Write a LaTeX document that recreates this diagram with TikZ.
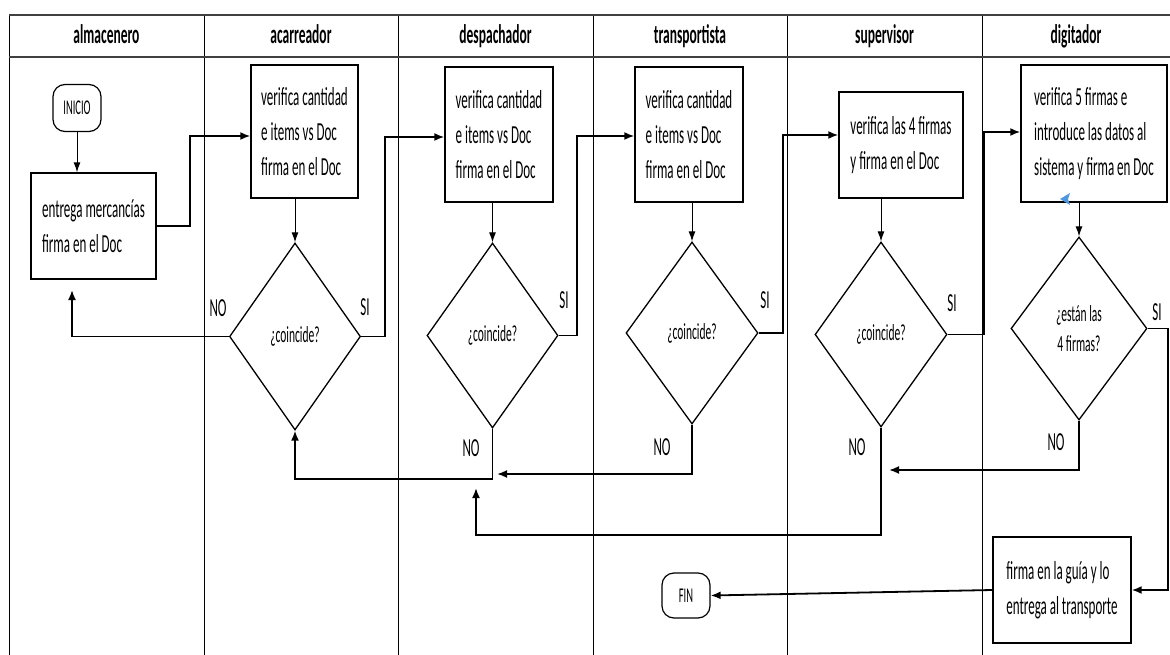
\documentclass[tikz,border=0pt]{standalone}
\usepackage{fontspec}
\setmainfont{Carlito}[FakeStretch=0.5]
\usetikzlibrary{shapes.geometric,arrows.meta,calc}
\definecolor{tipblue}{RGB}{80,150,220}
\tikzset{
 box/.style={draw, line width=1.4pt, align=left, font=\fontsize{26}{35}\selectfont, inner sep=0pt},
 term/.style={draw, line width=1.2pt, rounded corners=12pt, font=\fontsize{21}{22}\selectfont, inner sep=0pt},
 dec/.style={draw, diamond, line width=1.3pt, inner sep=0pt, align=center, font=\fontsize{23}{30}\selectfont},
 flow/.style={line width=1.8pt, -{Latex[length=10pt,width=8pt]}},
 thinflow/.style={line width=1pt, -{Latex[length=10pt,width=7pt]}},
 lbl/.style={font=\fontsize{26}{28}\selectfont, inner sep=0pt},
 head/.style={font=\bfseries\fontsize{27}{28}\selectfont, inner sep=0pt, anchor=base},
 lane/.style={line width=1pt},
 hline/.style={line width=2.5pt, black!75},
}
\begin{document}
\begin{tikzpicture}[x=1pt,y=-1pt]
\useasboundingbox (0,0) rectangle (1170,655);
% swimlanes
\foreach \x in {9,204,398,593,787,982} \draw[lane] (\x,15) -- (\x,655);
\draw[hline] (9,15) -- (1170,15);
\draw[hline] (9,57) -- (1170,57);
\node[head] (h1) at (106.5,44) {almacenero};
\node[head] (h2) at (301,44) {acarreador};
\node[head] (h3) at (495.5,44) {despachador};
\node[head] (h4) at (690,44) {transportista};
\node[head] (h5) at (884.5,44) {supervisor};
\node[head] (h6) at (1076,44) {digitador};
% nodes
\node[term, minimum width=48pt, minimum height=47pt] (ini) at (77,108) {INICIO};
\node[box, minimum width=125pt, minimum height=106pt] (ent) at (93.5,226) {entrega mercancías\\firma en el Doc};
\node[box, minimum width=107pt, minimum height=133pt] (acar) at (304.5,131.5) {verifica cantidad\\e items vs Doc\\firma en el Doc};
\node[box, minimum width=108pt, minimum height=135pt] (desp) at (499,134.5) {verifica cantidad\\e items vs Doc\\firma en el Doc};
\node[box, minimum width=108pt, minimum height=135pt] (trans) at (689,134.5) {verifica cantidad\\e items vs Doc\\firma en el Doc};
\node[box, minimum width=124pt, minimum height=106pt] (sup) at (901,145) {verifica las 4 firmas\\y firma en el Doc};
\node[box, minimum width=146pt, minimum height=137pt] (dig) at (1094,133.5) {verifica 5 firmas e\\introduce las datos al\\sistema y firma en Doc};
\node[box, minimum width=138pt, minimum height=106pt] (fg) at (1062,590) {firma en la guía y lo\\entrega al transporte};
\node[term, minimum width=48pt, minimum height=45pt] (fin) at (686,595.5) {FIN};
\node[dec, minimum width=131pt, minimum height=187pt] (d1) at (295,336.5) {¿coincide?};
\node[dec, minimum width=131pt, minimum height=185pt] (d2) at (492.5,335.5) {¿coincide?};
\node[dec, minimum width=132pt, minimum height=182pt] (d3) at (692,333) {¿coincide?};
\node[dec, minimum width=132pt, minimum height=185pt] (d4) at (881,334.5) {¿coincide?};
\node[dec, minimum width=136pt, minimum height=183pt] (d5) at (1079,328.5) {¿están las\\4 firmas?};
% free ends
\coordinate (g1) at (72,290);
\coordinate (g3) at (497,474);
\coordinate (g4) at (476,488);
\coordinate (g5) at (889,470);
% connectors
\draw[thinflow] (ini.south) -- (ini.south |- ent.north);
\draw[flow] (ent.east) -| (190,136) -- (acar.west |- 0,136);
\draw[thinflow] (d1.north |- acar.south) -- (d1.north);
\draw[flow] (d1.west) -| (g1);
\draw[flow] (d1.east) -| (385,137) -- (desp.west |- 0,137);
\draw[thinflow] (d2.north |- desp.south) -- (d2.north);
\draw[flow] (d2.east) -| (577,136) -- (trans.west |- 0,136);
\draw[thinflow] (d3.north |- trans.south) -- (d3.north);
\draw[flow] (d3.east) -| (783,135) -- (sup.west |- 0,135);
\draw[thinflow] (d4.north |- sup.south) -- (d4.north);
\draw[flow] (d4.east) -| (984,132) -- (dig.west |- 0,132);
\draw[thinflow] (d5.north |- dig.south) -- (d5.north);
\draw[flow] (d5.east) -| (1168,590) -- (fg.east);
\draw[flow] (fg.west) -- (fin.east);
\draw[flow] (d2.south) -- (d2.south |- 0,479) -- (d1.south |- 0,479) -- (d1.south);
\draw[flow] (d3.south) |- (g3);
\draw[flow] (d4.south) -- (d4.south |- 0,535) -| (g4);
\draw[flow] (d5.south) |- (g5);
\fill[tipblue] (1060,199) -- (1070,193) -- (1068,199) -- (1070,205) -- cycle;
% labels
\node[lbl] (no1) at (218,308) {NO};
\node[lbl] (si1) at (365,307) {SI};
\node[lbl] (si2) at (564,300) {SI};
\node[lbl] (no2) at (471,448) {NO};
\node[lbl] (si3) at (765,300) {SI};
\node[lbl] (no3) at (662,447) {NO};
\node[lbl] (si4) at (952,303) {SI};
\node[lbl] (no4) at (857,447) {NO};
\node[lbl] (si5) at (1157,312) {SI};
\node[lbl] (no5) at (1056,442) {NO};
\end{tikzpicture}
\end{document}
